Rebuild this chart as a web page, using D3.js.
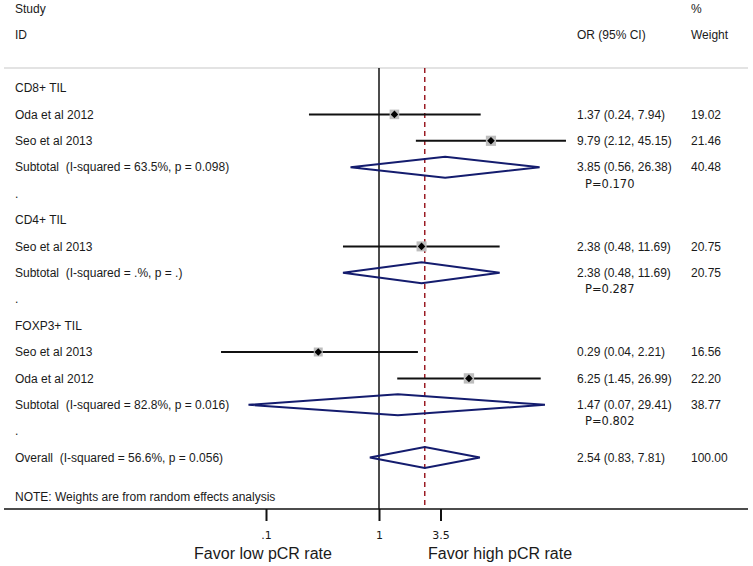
<!DOCTYPE html>
<html>
<head>
<meta charset="utf-8">
<script src="https://cdn.jsdelivr.net/npm/d3@7"></script>
<style>
  html, body { margin: 0; padding: 0; background: #fff; }
  svg { display: block; }
  text { font-family: "Liberation Sans", Arial, sans-serif; fill: #1a1a1a; white-space: pre; }
</style>
</head>
<body>
<svg id="chart" width="753" height="566"></svg>
<script>
// ---- data ----
const studyLabels = [
  "CD8+ TIL",
  "Oda et al 2012",
  "Seo et al 2013",
  "Subtotal  (I-squared = 63.5%, p = 0.098)",
  ".",
  "CD4+ TIL",
  "Seo et al 2013",
  "Subtotal  (I-squared = .%, p = .)",
  ".",
  "FOXP3+ TIL",
  "Seo et al 2013",
  "Oda et al 2012",
  "Subtotal  (I-squared = 82.8%, p = 0.016)",
  ".",
  "Overall  (I-squared = 56.6%, p = 0.056)"
];
const rowTypes = ["head","study","study","pooled","blank","head","study","pooled","blank","head","study","study","pooled","blank","pooled"];
const orValues = [null, 1.37, 9.79, 3.85, null, null, 2.38, 2.38, null, null, 0.29, 6.25, 1.47, null, 2.54];
const lowerCI  = [null, 0.24, 2.12, 0.56, null, null, 0.48, 0.48, null, null, 0.04, 1.45, 0.07, null, 0.83];
const upperCI  = [null, 7.94, 45.15, 26.38, null, null, 11.69, 11.69, null, null, 2.21, 26.99, 29.41, null, 7.81];
const weights  = [null, 19.02, 21.46, 40.48, null, null, 20.75, 20.75, null, null, 16.56, 22.20, 38.77, null, 100.00];
const pLabels  = [null, null, null, "P=0.170", null, null, null, "P=0.287", null, null, null, null, "P=0.802", null, null];
const overallOR = 2.54;
const tickValues = [0.1, 1, 3.5];
const tickLabels = [".1", "1", "3.5"];
const noteText = "NOTE: Weights are from random effects analysis";
const axisTitles = ["Favor low pCR rate", "Favor high pCR rate"];

// ---- layout ----
const svg = d3.select("#chart");
const x = d3.scaleLog().domain([0.1, 1]).range([266, 379]);
const y = d3.scaleLinear().domain([0, 14]).range([88, 457.6]);
const axisY = 509, topY = 68;
const colOR = 577, colW = 691, colLabel = 15;
const fmt = d3.format(".2f");

// header
const hdr = svg.append("g").attr("font-size", 12);
hdr.append("text").attr("x", colLabel).attr("y", 9).attr("dy", "0.35em").text("Study");
hdr.append("text").attr("x", colLabel).attr("y", 35).attr("dy", "0.35em").text("ID");
hdr.append("text").attr("x", colOR).attr("y", 35).attr("dy", "0.35em").text("OR (95% CI)");
hdr.append("text").attr("x", colW).attr("y", 9).attr("dy", "0.35em").text("%");
hdr.append("text").attr("x", colW).attr("y", 35).attr("dy", "0.35em").text("Weight");

// top gray rule
svg.append("line").attr("x1", 4).attr("x2", 748).attr("y1", topY).attr("y2", topY)
  .attr("stroke", "#c8c8c8").attr("stroke-width", 1.2);

// null line at OR = 1
svg.append("line").attr("x1", x(1)).attr("x2", x(1)).attr("y1", topY).attr("y2", axisY)
  .attr("stroke", "#111").attr("stroke-width", 1.5);

// overall dashed line
svg.append("line").attr("x1", x(overallOR)).attr("x2", x(overallOR)).attr("y1", topY).attr("y2", axisY)
  .attr("stroke", "#9b1c24").attr("stroke-width", 1.5).attr("stroke-dasharray", "5,4");

const rows = studyLabels.map((l, i) => ({
  label: l, type: rowTypes[i], or: orValues[i], lo: lowerCI[i], hi: upperCI[i],
  w: weights[i], p: pLabels[i], i
}));

// labels
svg.append("g").attr("font-size", 12).selectAll("text").data(rows).join("text")
  .attr("x", colLabel).attr("y", d => y(d.i)).attr("dy", "0.35em")
  .attr("fill", d => d.type === "blank" ? "#aaa" : "#1a1a1a")
  .text(d => d.label);

const est = rows.filter(d => d.or != null);

// OR text and weights
svg.append("g").attr("font-size", 12).selectAll("text").data(est).join("text")
  .attr("x", colOR).attr("y", d => y(d.i)).attr("dy", "0.35em")
  .text(d => `${fmt(d.or)} (${fmt(d.lo)}, ${fmt(d.hi)})`);
svg.append("g").attr("font-size", 12).selectAll("text").data(est).join("text")
  .attr("x", colW).attr("y", d => y(d.i)).attr("dy", "0.35em")
  .text(d => fmt(d.w));

// p-values
svg.append("g").selectAll("text").data(rows.filter(d => d.p)).join("text")
  .attr("x", colOR + 8).attr("y", d => y(d.i) + 16.5).attr("dy", "0.35em")
  .style("font-family", "'DejaVu Sans', Verdana, sans-serif").attr("font-size", 11.5)
  .text(d => d.p);

// study CIs
const studies = est.filter(d => d.type === "study");
svg.append("g").selectAll("line").data(studies).join("line")
  .attr("x1", d => x(d.lo)).attr("x2", d => x(d.hi))
  .attr("y1", d => y(d.i)).attr("y2", d => y(d.i))
  .attr("stroke", "#111").attr("stroke-width", 2);
// weight boxes
svg.append("g").selectAll("rect").data(studies).join("rect")
  .attr("x", d => x(d.or) - 1.1 * Math.sqrt(d.w))
  .attr("y", d => y(d.i) - 1.1 * Math.sqrt(d.w))
  .attr("width", d => 2.2 * Math.sqrt(d.w))
  .attr("height", d => 2.2 * Math.sqrt(d.w))
  .attr("fill", "#bdbdbd");
// point estimate diamonds
svg.append("g").selectAll("path").data(studies).join("path")
  .attr("d", d => {
    const cx = x(d.or), cy = y(d.i), r = 3.8;
    return `M${cx - r},${cy}L${cx},${cy - r}L${cx + r},${cy}L${cx},${cy + r}Z`;
  })
  .attr("fill", "#000");

// pooled diamonds
const pooled = est.filter(d => d.type === "pooled");
svg.append("g").selectAll("path").data(pooled).join("path")
  .attr("d", d => {
    const cy = y(d.i), h = 10.5;
    return `M${x(d.lo)},${cy}L${x(d.or)},${cy - h}L${x(d.hi)},${cy}L${x(d.or)},${cy + h}Z`;
  })
  .attr("fill", "none").attr("stroke", "#141c6e").attr("stroke-width", 2);

// note
svg.append("text").attr("x", colLabel).attr("y", 497).attr("dy", "0.35em")
  .attr("font-size", 12).text(noteText);

// axis line
svg.append("line").attr("x1", 4).attr("x2", 748).attr("y1", axisY).attr("y2", axisY)
  .attr("stroke", "#111").attr("stroke-width", 1.5);

const axis = d3.axisBottom(x).tickValues(tickValues)
  .tickFormat((d, i) => tickLabels[i]).tickSize(12).tickPadding(10);
const ag = svg.append("g").attr("transform", `translate(0,${axisY})`).call(axis);
ag.select(".domain").remove();
ag.selectAll(".tick line").attr("stroke", "#111").attr("stroke-width", 2);
ag.selectAll(".tick text").attr("fill", "#222")
  .style("font-family", "'DejaVu Sans', Verdana, sans-serif").attr("font-size", 11);

// axis titles
svg.append("text").attr("x", 263).attr("y", 553).attr("dy", "0.35em")
  .attr("text-anchor", "middle").attr("font-size", 16).text(axisTitles[0]);
svg.append("text").attr("x", 428).attr("y", 553).attr("dy", "0.35em")
  .attr("font-size", 16).text(axisTitles[1]);
</script>
</body>
</html>
